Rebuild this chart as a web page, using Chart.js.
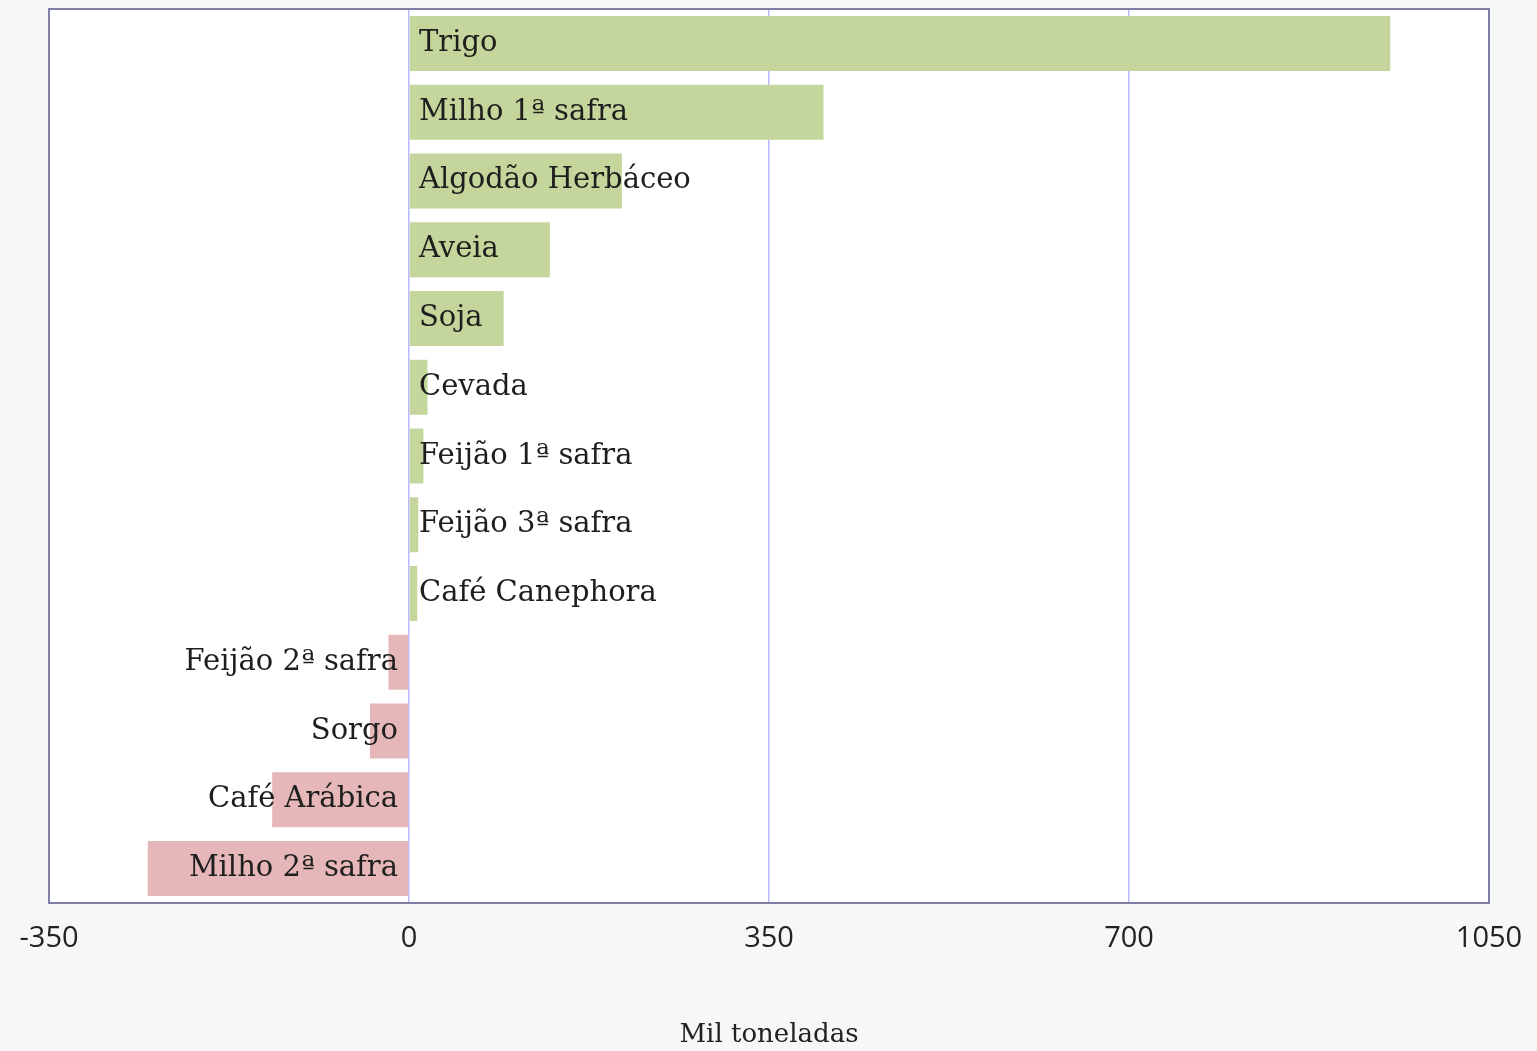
<!DOCTYPE html>
<html>
<head>
<meta charset="utf-8">
<script src="https://cdn.jsdelivr.net/npm/chart.js@4.4.1/dist/chart.umd.min.js"></script>
<style>
  html, body { margin: 0; padding: 0; background: #f6f8f5; }
  #wrap { width: 1537px; height: 1051px; }
</style>
</head>
<body>
<div id="wrap"><canvas id="c"></canvas></div>
<script>
const categories = ["Trigo", "Milho 1ª safra", "Algodão Herbáceo", "Aveia", "Soja", "Cevada",
  "Feijão 1ª safra", "Feijão 3ª safra", "Café Canephora", "Feijão 2ª safra", "Sorgo",
  "Café Arábica", "Milho 2ª safra"];
const values = [954, 403, 207, 137, 92, 18, 14, 9, 8, -20, -38, -133, -254];
const xTicks = [-350, 0, 350, 700, 1050];
const axisTitle = "Mil toneladas";

const GREEN = "#c4d69b";
const PINK = "#e6b7b8";
const LABEL_FONT = "29px 'DejaVu Serif', serif";

const frame = {
  id: "frame",
  beforeDraw(chart) {
    const { ctx, chartArea: a } = chart;
    ctx.save();
    ctx.fillStyle = "#ffffff";
    ctx.fillRect(a.left, a.top, a.right - a.left, a.bottom - a.top);
    ctx.restore();
  },
  afterDraw(chart) {
    const { ctx, chartArea: a } = chart;
    ctx.save();
    ctx.strokeStyle = "#7e7ea6";
    ctx.lineWidth = 2;
    ctx.strokeRect(a.left, a.top, a.right - a.left, a.bottom - a.top);
    ctx.restore();
  }
};

const barLabels = {
  id: "barLabels",
  afterDatasetsDraw(chart) {
    const { ctx } = chart;
    const xs = chart.scales.x;
    const ys = chart.scales.y;
    const x0 = xs.getPixelForValue(0);
    ctx.save();
    ctx.font = LABEL_FONT;
    ctx.fillStyle = "#1e1e1e";
    ctx.textBaseline = "middle";
    categories.forEach((name, i) => {
      const y = ys.getPixelForValue(i);
      if (values[i] >= 0) {
        ctx.textAlign = "left";
        ctx.fillText(name, x0 + 10, y);
      } else {
        ctx.textAlign = "right";
        ctx.fillText(name, x0 - 11, y);
      }
    });
    ctx.restore();
  }
};

new Chart(document.getElementById("c"), {
  type: "bar",
  data: {
    labels: categories,
    datasets: [{
      data: values,
      backgroundColor: values.map(v => v >= 0 ? GREEN : PINK),
      borderWidth: 0,
      barPercentage: 0.8,
      categoryPercentage: 1.0
    }]
  },
  options: {
    indexAxis: "y",
    responsive: true,
    maintainAspectRatio: false,
    animation: false,
    layout: { padding: { left: 49, right: 48, top: 9, bottom: 0 } },
    plugins: { legend: { display: false }, tooltip: { enabled: false } },
    scales: {
      x: {
        type: "linear",
        min: -350,
        max: 1050,
        afterBuildTicks(scale) { scale.ticks = xTicks.map(v => ({ value: v })); },
        afterFit(scale) { scale.paddingLeft = 0; scale.paddingRight = 0; },
        grid: { color: "#b8b8ff", lineWidth: 1.5, drawTicks: false },
        border: { display: false },
        ticks: {
          padding: 18,
          color: "#222222",
          font: { family: "'Open Sans', sans-serif", size: 29 },
          maxRotation: 0,
          callback: v => String(v)
        },
        title: {
          display: true,
          text: axisTitle,
          color: "#222222",
          font: { family: "'DejaVu Serif', serif", size: 26 },
          padding: { top: 46, bottom: 0 }
        }
      },
      y: { display: false }
    }
  },
  plugins: [frame, barLabels]
});
</script>
</body>
</html>
